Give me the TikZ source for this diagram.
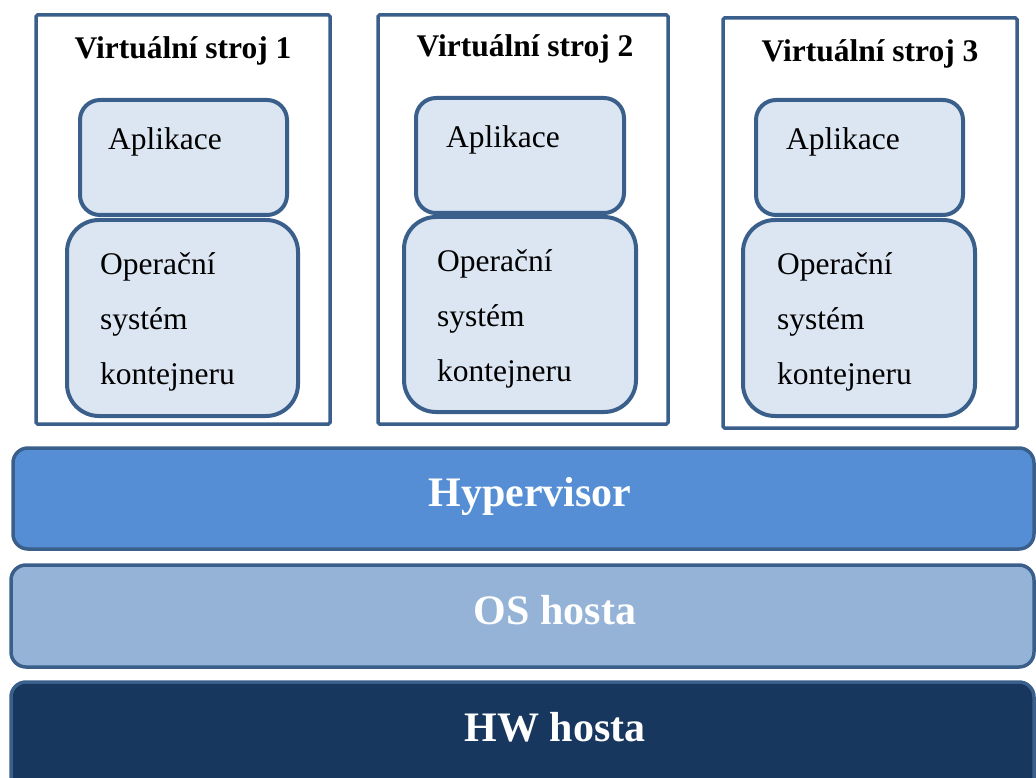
\documentclass[tikz,border=0pt]{standalone}
\usepackage{fontspec}
\setmainfont{Liberation Serif}
\definecolor{edgeblue}{HTML}{3A5F8B}
\definecolor{boxfill}{HTML}{DCE6F2}
\definecolor{hypfill}{HTML}{558ED5}
\definecolor{osfill}{HTML}{95B3D7}
\definecolor{hwfill}{HTML}{17375E}
\tikzset{
  vmbox/.style={draw=edgeblue, line width=3.5pt, fill=white, rounded corners=1.5pt},
  appbox/.style={draw=edgeblue, line width=4pt, fill=boxfill, rounded corners=20pt},
  osbox/.style={draw=edgeblue, line width=4pt, fill=boxfill, rounded corners=32pt},
  layer/.style={draw=edgeblue, line width=3.5pt, rounded corners=15pt},
  vmtitle/.style={anchor=base, inner sep=0pt, font=\fontsize{31.5}{36}\selectfont\bfseries},
  boxtext/.style={anchor=base west, inner sep=0pt, font=\fontsize{31.5}{36}\selectfont},
  layertext/.style={anchor=base, inner sep=0pt, text=white, font=\fontsize{42}{48}\selectfont\bfseries}
}
\begin{document}
\begin{tikzpicture}[x=1pt, y=-1pt]
\useasboundingbox (0,0) rectangle (1036,778);
\clip (0,0) rectangle (1036,778);

% virtual machines: outer frame, application box, container OS box
\path[vmbox] (36,15) rectangle (330,424) coordinate (vm1);
\path[vmbox] (378,15) rectangle (668,424) coordinate (vm2);
\path[vmbox] (723,18) rectangle (1017,428) coordinate (vm3);

\path[appbox] (80,100) rectangle (287,215);
\path[osbox] (67,220) rectangle (298,416);
\path[appbox] (416,98) rectangle (624,213);
\path[osbox] (404,217) rectangle (636,412);
\path[appbox] (756,100) rectangle (963,215);
\path[osbox] (743,220) rectangle (975,416);

% titles
\node[vmtitle] (t1) at (183,59) {Virtuální stroj 1};
\node[vmtitle] (t2) at (525,57) {Virtuální stroj 2};
\node[vmtitle] (t3) at (870,62) {Virtuální stroj 3};

% box texts
\node[boxtext] (a1) at (108,150) {Aplikace};
\node[boxtext] (a2) at (446,148) {Aplikace};
\node[boxtext] (a3) at (786,150) {Aplikace};

\node[boxtext] (o1a) at (100,274) {Operační};
\node[boxtext] (o1b) at (100,329) {systém};
\node[boxtext] (o1c) at (100,384) {kontejneru};
\node[boxtext] (o2a) at (437,271) {Operační};
\node[boxtext] (o2b) at (437,326) {systém};
\node[boxtext] (o2c) at (437,381) {kontejneru};
\node[boxtext] (o3a) at (777,274) {Operační};
\node[boxtext] (o3b) at (777,329) {systém};
\node[boxtext] (o3c) at (777,384) {kontejneru};

% host layers
\path[layer, fill=hypfill] (13,448) rectangle (1034,549);
\path[layer, fill=osfill] (11,565) rectangle (1034,667);
\path[layer, fill=hwfill] (11,682) rectangle (1034,800);

\node[layertext] (hyp) at (530,506) {Hypervisor};
\node[layertext] (os) at (555,624) {OS hosta};
\node[layertext] (hw) at (555,741) {HW hosta};
\end{tikzpicture}
\end{document}
